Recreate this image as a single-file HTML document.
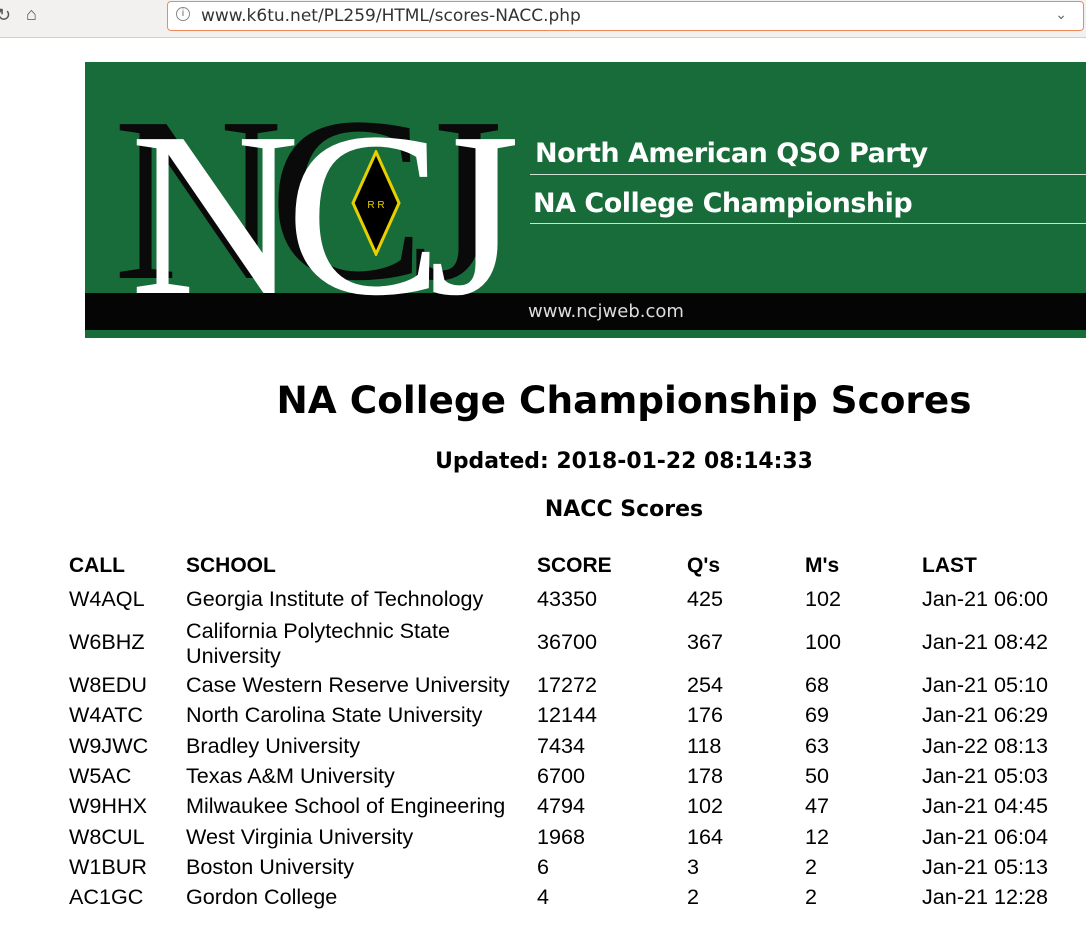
<!DOCTYPE html>
<html><head><meta charset="utf-8"><style>
body{margin:0;width:1086px;height:933px;background:#fff;position:relative;overflow:hidden;font-family:"Liberation Sans",sans-serif}
.a{position:absolute;white-space:nowrap}
.t{position:absolute;font-size:21.6px;color:#000;line-height:24px}
.h{font-weight:bold;font-size:21px}
</style></head><body>
<div class="a" style="left:0;top:0;width:1086px;height:37px;background:#f2f1f0;border-bottom:1px solid #d0d0d0"></div>
<div class="a" style="left:-4px;top:5px;font-size:18px;color:#555">↻</div>
<div class="a" style="left:26px;top:4px;font-size:18px;color:#555">⌂</div>
<div class="a" style="left:167px;top:1px;width:915px;height:28px;border:1px solid #f08a5d;border-radius:4px;background:#fff">
<span class="a" style="left:8px;top:5px;width:12px;height:12px;border:1px solid #888;border-radius:50%;font-size:10px;text-align:center;line-height:12px;color:#666">i</span>
<span class="a" style="left:33px;top:4px;font-size:17px;color:#333;font-family:'DejaVu Sans',sans-serif">www.k6tu.net/PL259/HTML/scores-NACC.php</span>
<span class="a" style="right:16px;top:4px;font-size:14px;color:#666">⌄</span>
</div>
<div class="a" style="left:85px;top:62px;width:1001px;height:276px;background:#186c3a;overflow:hidden">
<div class="a" style="left:0;top:231px;width:1001px;height:37px;background:#050505"></div>
<div class="a" style="left:28px;top:20px;font-family:'Liberation Serif',serif;font-size:235px;color:#0a0a0a;line-height:235px;letter-spacing:-14px">NCJ</div>
<div class="a" style="left:45px;top:35px;font-family:'Liberation Serif',serif;font-size:235px;color:#fff;line-height:235px;letter-spacing:-14px">NCJ</div>
<svg class="a" style="left:266px;top:88px" width="50" height="106"><polygon points="25,2 48,53 25,104 2,53" fill="#000" stroke="#e8d000" stroke-width="3"/><text x="25" y="58" font-size="10" fill="#e8d000" text-anchor="middle" font-family="Liberation Sans">R  R</text></svg>
<div class="a" style="left:450px;top:76px;font-size:27px;color:#fff;font-weight:bold;font-family:'DejaVu Sans',sans-serif;letter-spacing:-0.5px">North American QSO Party</div>
<div class="a" style="left:445px;top:112px;width:556px;height:1px;background:#cfe0d4"></div>
<div class="a" style="left:448px;top:126px;font-size:27px;color:#fff;font-weight:bold;font-family:'DejaVu Sans',sans-serif;letter-spacing:-0.5px">NA College Championship</div>
<div class="a" style="left:445px;top:161px;width:556px;height:1px;background:#cfe0d4"></div>
<div class="a" style="left:443px;top:239px;font-size:18px;color:#ddd;font-family:'DejaVu Sans',sans-serif">www.ncjweb.com</div>
</div>
<div class="a" style="left:0;width:1248px;top:378px;text-align:center;font-family:'DejaVu Sans',sans-serif;font-weight:bold;font-size:37.4px">NA College Championship Scores</div>
<div class="a" style="left:0;width:1248px;top:449px;text-align:center;font-family:'DejaVu Sans',sans-serif;font-weight:bold;font-size:21.9px">Updated: 2018-01-22 08:14:33</div>
<div class="a" style="left:0;width:1248px;top:497px;text-align:center;font-family:'DejaVu Sans',sans-serif;font-weight:bold;font-size:22px">NACC Scores</div>
<div id="tbl"></div>
<script>
const cols=[69,186,537,687,805,922];
const header=["CALL","SCHOOL","SCORE","Q's","M's","LAST"];
const rows=[
["W4AQL","Georgia Institute of Technology","43350","425","102","Jan-21 06:00"],
["W6BHZ","California Polytechnic State<br>University","36700","367","100","Jan-21 08:42"],
["W8EDU","Case Western Reserve University","17272","254","68","Jan-21 05:10"],
["W4ATC","North Carolina State University","12144","176","69","Jan-21 06:29"],
["W9JWC","Bradley University","7434","118","63","Jan-22 08:13"],
["W5AC","Texas A&amp;M University","6700","178","50","Jan-21 05:03"],
["W9HHX","Milwaukee School of Engineering","4794","102","47","Jan-21 04:45"],
["W8CUL","West Virginia University","1968","164","12","Jan-21 06:04"],
["W1BUR","Boston University","6","3","2","Jan-21 05:13"],
["AC1GC","Gordon College","4","2","2","Jan-21 12:28"]];
const centers=[599,642,685,715,746,776,806,837,867,897];
const tbl=document.getElementById('tbl');
header.forEach((h,i)=>{const d=document.createElement('div');d.className='t h';


d.style.left=cols[i]+'px';d.style.top=(566-12)+'px';d.innerHTML=h;tbl.appendChild(d);});
rows.forEach((r,ri)=>{r.forEach((v,i)=>{const d=document.createElement('div');d.className='t';


const two=v.includes('<br>');d.style.left=cols[i]+'px';
d.style.top=(centers[ri]-(two?24:12))+'px';if(two)d.style.lineHeight='25px';d.innerHTML=v;tbl.appendChild(d);});});
</script>
</body></html>
